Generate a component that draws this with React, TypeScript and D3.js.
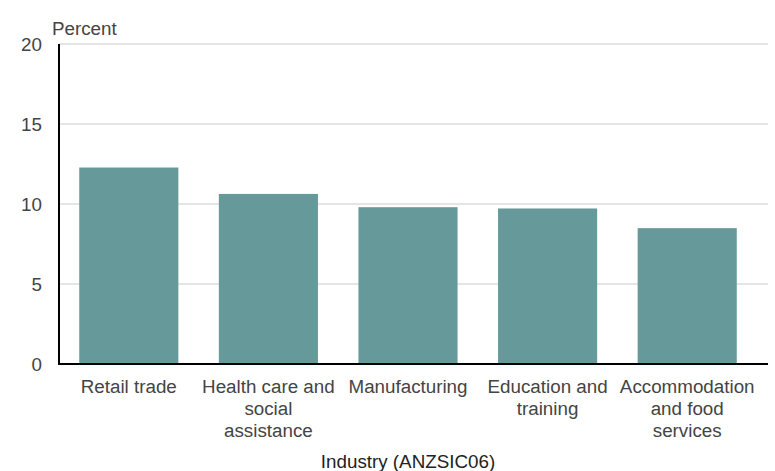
import React from "react";
import * as d3 from "d3";

const categories = [
  ["Retail trade"],
  ["Health care and", "social", "assistance"],
  ["Manufacturing"],
  ["Education and", "training"],
  ["Accommodation", "and food", "services"],
];
const values = [12.28, 10.63, 9.8, 9.72, 8.49];
const yTicks = [0, 5, 10, 15, 20];

export default function App() {
  const W = 775, H = 471;
  const left = 59, right = 768, top = 44, bottom = 364;
  const x = d3.scaleBand<number>().domain(d3.range(categories.length)).range([left, 757]).paddingInner(0.29).paddingOuter(0.145);
  const y = d3.scaleLinear().domain([0, 20]).range([bottom, top]);
  const font = "'Liberation Sans', Arial, sans-serif";
  const fs = 18.8;
  return (
    <svg width={W} height={H} style={{ position: "absolute", left: 0, top: 0, background: "#fff" }} fontFamily={font}>
      {yTicks.map((t) => (
        <g key={t}>
          {t > 0 && <line x1={left} x2={right} y1={y(t)} y2={y(t)} stroke="#dcdcdc" strokeWidth={1.5} />}
          <text x={42} y={y(t)} dy="0.35em" textAnchor="end" fontSize={fs} fill="#444">{t}</text>
        </g>
      ))}
      {values.map((v, i) => (
        <rect key={i} x={x(i)} y={y(v)} width={x.bandwidth()} height={bottom - y(v)} fill="#669999" />
      ))}
      <line x1={left} x2={left} y1={top} y2={bottom + 1} stroke="#000" strokeWidth={2} />
      <line x1={left - 1} x2={right} y1={bottom} y2={bottom} stroke="#000" strokeWidth={2} />
      <text x={52} y={35} fontSize={fs} fill="#444">Percent</text>
      {categories.map((lines, i) => (
        <text key={i} textAnchor="middle" fontSize={fs} fill="#444">
          {lines.map((l, j) => (
            <tspan key={j} x={(x(i) as number) + x.bandwidth() / 2} y={393 + j * 22}>{l}</tspan>
          ))}
        </text>
      ))}
      <text x={408} y={468} textAnchor="middle" fontSize={fs} fill="#222">Industry (ANZSIC06)</text>
    </svg>
  );
}
